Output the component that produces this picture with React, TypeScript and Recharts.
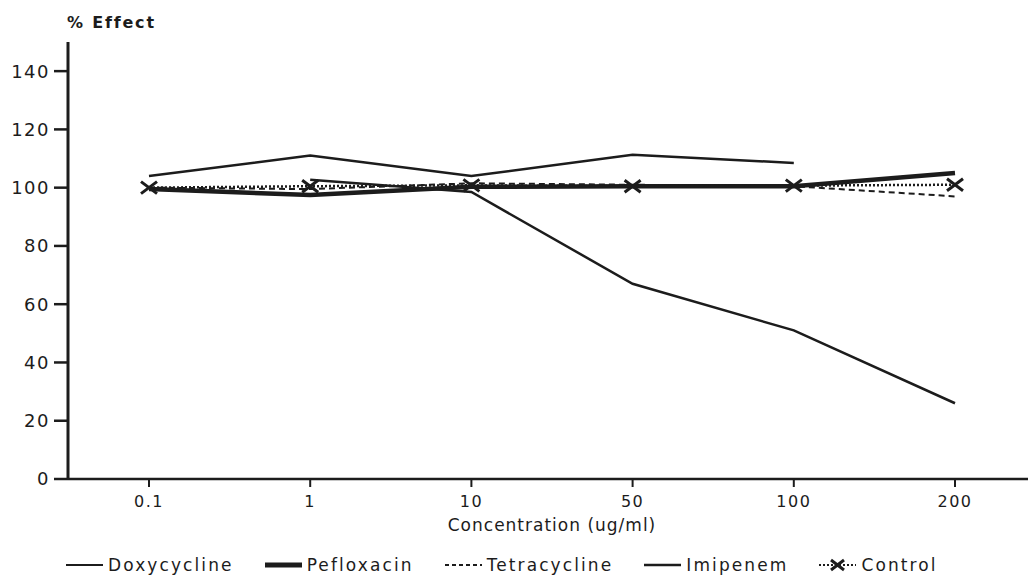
import React from 'react';
import { LineChart, Line, XAxis, YAxis, Legend } from 'recharts';

const categories = ['0.1', '1', '10', '50', '100', '200'];
const doxycycline = [null, 102.7, 98.5, 67, 51, 26];
const pefloxacin = [99.5, 97.5, 100.3, 100.5, 100.5, 105];
const tetracycline = [100, 99.5, 101.5, 101, 100.5, 97];
const imipenem = [104, 111, 104, 111.3, 108.5, null];
const control = [100, 100.5, 100.8, 100.5, 100.7, 101];
const yTicks = [0, 20, 40, 60, 80, 100, 120, 140];

const data = categories.map((c, i) => ({
  conc: c,
  doxycycline: doxycycline[i],
  pefloxacin: pefloxacin[i],
  tetracycline: tetracycline[i],
  imipenem: imipenem[i],
  control: control[i],
}));

const INK = '#1c1c1c';
const FONT = '"DejaVu Sans", "Liberation Sans", sans-serif';

const XMark = (props: any) => {
  const { cx, cy, index } = props;
  if (cx == null || cy == null) return <g key={`x-${index}`} />;
  return (
    <path
      key={`x-${index}`}
      d={`M${cx - 8},${cy - 6}L${cx + 8},${cy + 6}M${cx - 8},${cy + 6}L${cx + 8},${cy - 6}`}
      stroke={INK}
      strokeWidth={3}
      fill="none"
    />
  );
};

const legendItems = [
  { name: 'Doxycycline', width: 2, dash: undefined as string | undefined, mark: false },
  { name: 'Pefloxacin', width: 5, dash: undefined, mark: false },
  { name: 'Tetracycline', width: 2, dash: '4 3', mark: false },
  { name: 'Imipenem', width: 2.5, dash: undefined, mark: false },
  { name: 'Control', width: 2, dash: '2 2', mark: true },
];

const renderLegend = () => (
  <div
    style={{
      display: 'flex',
      alignItems: 'center',
      paddingLeft: 58,
      paddingTop: 20,
      height: 48,
      boxSizing: 'border-box',
      fontFamily: FONT,
      fontSize: 17,
      letterSpacing: 2.1,
      color: INK,
    }}
  >
    {legendItems.map((it) => (
      <div key={it.name} style={{ display: 'flex', alignItems: 'center', marginRight: 31 }}>
        <svg width={37} height={14}>
          <line x1={0} y1={7} x2={37} y2={7} stroke={INK} strokeWidth={it.width} strokeDasharray={it.dash} />
          {it.mark && (
            <path d="M12,2L25,12M12,12L25,2" stroke={INK} strokeWidth={3} fill="none" />
          )}
        </svg>
        <span style={{ marginLeft: 5 }}>{it.name}</span>
      </div>
    ))}
  </div>
);

const EffectLabel = (props: any) => {
  const vb = props.viewBox || {};
  return (
    <text
      x={(vb.x || 0) + (vb.width || 0) - 1}
      y={(vb.y || 0) - 14}
      fontFamily={FONT}
      fontWeight="bold"
      fontSize={16}
      letterSpacing={1.8}
      fill={INK}
    >
      % Effect
    </text>
  );
};

export default function App() {
  return (
    <div style={{ background: '#fff' }}>
      <LineChart
        width={1028}
        height={571}
        data={data}
        margin={{ top: 34, right: 0, left: 0, bottom: 0 }}
      >
        <XAxis
          dataKey="conc"
          padding={{ left: 81, right: 81 }}
          height={52}
          axisLine={{ stroke: INK, strokeWidth: 2.5 }}
          tickLine={{ stroke: INK, strokeWidth: 2 }}
          tickSize={8}
          tickMargin={9}
          tick={{ fontSize: 16, fill: INK, fontFamily: FONT, letterSpacing: 1.5 }}
          label={{
            value: 'Concentration (ug/ml)',
            position: 'insideBottom',
            offset: 0,
            style: { fontSize: 17, fill: INK, fontFamily: FONT, letterSpacing: 1 },
          }}
        />
        <YAxis
          domain={[0, 150]}
          ticks={yTicks}
          width={60}
          interval={0}
          axisLine={{ stroke: INK, strokeWidth: 3 }}
          tickLine={{ stroke: INK, strokeWidth: 2.5 }}
          tickSize={14}
          tickMargin={4}
          tick={{ fontSize: 18, fill: INK, fontFamily: FONT, letterSpacing: 1.5 }}
          label={<EffectLabel />}
        />
        <Legend verticalAlign="bottom" content={renderLegend} wrapperStyle={{ left: 0 }} />
        <Line dataKey="pefloxacin" name="Pefloxacin" stroke={INK} strokeWidth={4.5} dot={false} isAnimationActive={false} />
        <Line dataKey="tetracycline" name="Tetracycline" stroke={INK} strokeWidth={2} strokeDasharray="6 4" dot={false} isAnimationActive={false} />
        <Line dataKey="imipenem" name="Imipenem" stroke={INK} strokeWidth={2.5} dot={false} isAnimationActive={false} />
        <Line dataKey="doxycycline" name="Doxycycline" stroke={INK} strokeWidth={2.5} dot={false} isAnimationActive={false} />
        <Line dataKey="control" name="Control" stroke={INK} strokeWidth={2.5} strokeDasharray="2 2" dot={<XMark />} isAnimationActive={false} />
      </LineChart>
    </div>
  );
}
